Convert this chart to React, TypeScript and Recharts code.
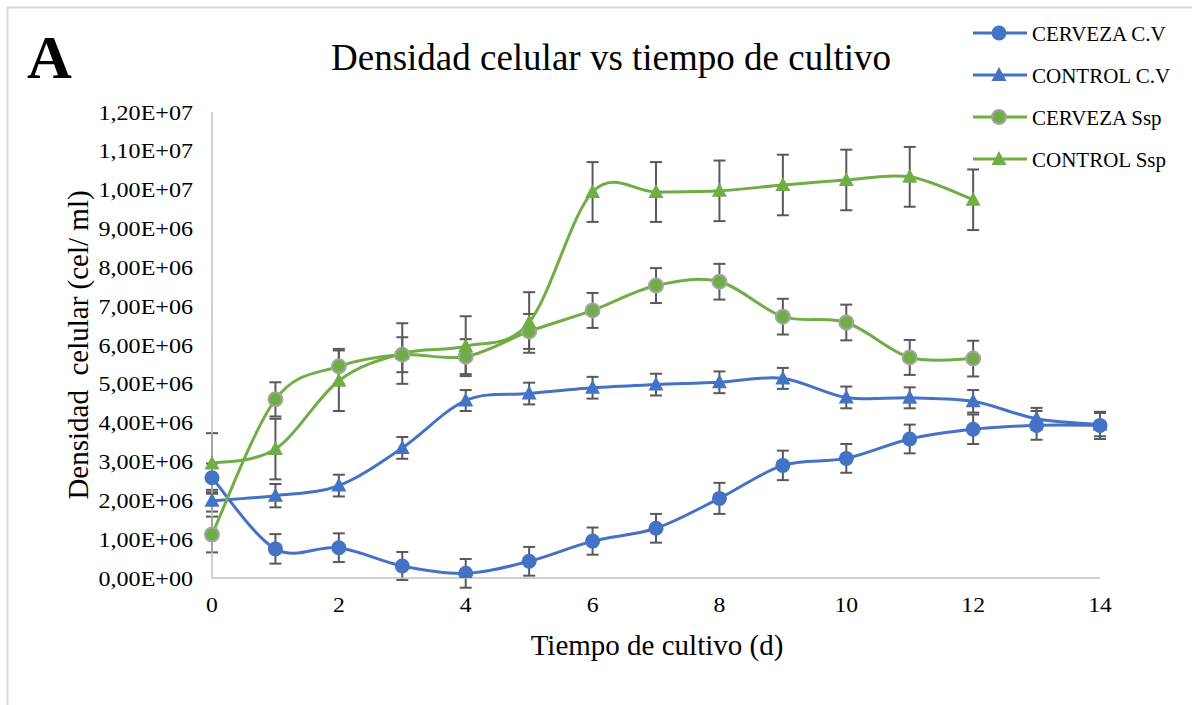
import { ErrorBar, Line, LineChart, XAxis, YAxis } from "recharts";

const days = [0, 1, 2, 3, 4, 5, 6, 7, 8, 9, 10, 11, 12, 13, 14];

const cervezaCV = [2.58e6, 0.75e6, 0.78e6, 0.31e6, 0.12e6, 0.43e6, 0.95e6, 1.28e6, 2.05e6, 2.9e6, 3.08e6, 3.58e6, 3.83e6, 3.93e6, 3.93e6];
const cervezaCVErr = [0.37e6, 0.38e6, 0.37e6, 0.36e6, 0.37e6, 0.37e6, 0.35e6, 0.37e6, 0.4e6, 0.38e6, 0.37e6, 0.37e6, 0.38e6, 0.37e6, 0.35e6];

const controlCV = [1.99e6, 2.12e6, 2.38e6, 3.35e6, 4.57e6, 4.75e6, 4.9e6, 4.98e6, 5.04e6, 5.14e6, 4.65e6, 4.64e6, 4.55e6, 4.1e6, 3.95e6];
const controlCVErr = [0.28e6, 0.3e6, 0.28e6, 0.28e6, 0.27e6, 0.28e6, 0.28e6, 0.28e6, 0.28e6, 0.27e6, 0.28e6, 0.27e6, 0.29e6, 0.28e6, 0.3e6];

const cervezaSsp = [1.12e6, 4.6e6, 5.45e6, 5.75e6, 5.7e6, 6.35e6, 6.89e6, 7.53e6, 7.63e6, 6.73e6, 6.58e6, 5.68e6, 5.65e6];
const cervezaSspErr = [0.46e6, 0.44e6, 0.45e6, 0.45e6, 0.45e6, 0.45e6, 0.45e6, 0.45e6, 0.46e6, 0.46e6, 0.46e6, 0.45e6, 0.46e6];

const controlSsp = [2.95e6, 3.32e6, 5.08e6, 5.78e6, 5.97e6, 6.58e6, 9.94e6, 9.94e6, 9.97e6, 10.12e6, 10.25e6, 10.33e6, 9.74e6];
const controlSspErr = [0.78e6, 0.78e6, 0.78e6, 0.78e6, 0.77e6, 0.78e6, 0.77e6, 0.77e6, 0.78e6, 0.78e6, 0.78e6, 0.77e6, 0.78e6];

const xTicks = [0, 2, 4, 6, 8, 10, 12, 14];
const yTicks = [0, 1e6, 2e6, 3e6, 4e6, 5e6, 6e6, 7e6, 8e6, 9e6, 10e6, 11e6, 12e6];

const data = days.map((day, i) => ({
  day,
  cervezaCV: cervezaCV[i],
  cervezaCVErr: cervezaCVErr[i],
  controlCV: controlCV[i],
  controlCVErr: controlCVErr[i],
  cervezaSsp: cervezaSsp[i],
  cervezaSspErr: cervezaSspErr[i],
  controlSsp: controlSsp[i],
  controlSspErr: controlSspErr[i],
}));

const BLUE = "#4472C4";
const GREEN = "#70AD47";
const RING = "#A5A5A5";
const ERR = "#595959";
const FONT = '"Liberation Serif", "Times New Roman", serif';

// excel-like smoothed line (catmull-rom as bezier)
const excelCurve = (context: any) => {
  let pts: number[][] = [];
  return {
    areaStart() {},
    areaEnd() {},
    lineStart() {
      pts = [];
    },
    point(x: number, y: number) {
      pts.push([+x, +y]);
    },
    lineEnd() {
      const n = pts.length;
      if (!n) return;
      context.moveTo(pts[0][0], pts[0][1]);
      for (let i = 0; i < n - 1; i++) {
        const p0 = pts[i - 1] ?? pts[i];
        const p1 = pts[i];
        const p2 = pts[i + 1];
        const p3 = pts[i + 2] ?? p2;
        context.bezierCurveTo(
          p1[0] + (p2[0] - p0[0]) / 6,
          p1[1] + (p2[1] - p0[1]) / 6,
          p2[0] - (p3[0] - p1[0]) / 6,
          p2[1] - (p3[1] - p1[1]) / 6,
          p2[0],
          p2[1]
        );
      }
    },
  };
};

const sci = (v: number) => {
  if (v === 0) return "0,00E+00";
  const exp = Math.floor(Math.log10(v) + 1e-9);
  const mant = (v / Math.pow(10, exp)).toFixed(2).replace(".", ",");
  return `${mant}E+${String(exp).padStart(2, "0")}`;
};

function CircleDot(props: any) {
  const { cx, cy, mfill, ring } = props;
  if (cx == null || cy == null) return null;
  return <circle cx={cx} cy={cy} r={ring ? 7 : 7.5} fill={mfill} stroke={ring ?? mfill} strokeWidth={ring ? 2 : 0} />;
}

function TriDot(props: any) {
  const { cx, cy, mfill } = props;
  if (cx == null || cy == null) return null;
  return <path d={`M${cx},${cy - 8}L${cx + 7.5},${cy + 6}L${cx - 7.5},${cy + 6}Z`} fill={mfill} />;
}

// tick text in the source is a bit wider than tall, so stretch it slightly
function YTick(props: any) {
  const { x, y, payload } = props;
  return (
    <text
      transform={`translate(${x} ${y}) scale(1.12 1)`}
      dy="0.35em"
      textAnchor="end"
      fontSize={21.5}
      fontFamily={FONT}
      fill="#000"
    >
      {sci(Number(payload.value))}
    </text>
  );
}

function XTick(props: any) {
  const { x, y, payload } = props;
  return (
    <text
      transform={`translate(${x} ${y}) scale(1.1 1)`}
      dy="0.72em"
      textAnchor="middle"
      fontSize={21.5}
      fontFamily={FONT}
      fill="#000"
    >
      {payload.value}
    </text>
  );
}

const legendItems = [
  { name: "CERVEZA C.V", color: BLUE, shape: "circle", ring: undefined },
  { name: "CONTROL C.V", color: BLUE, shape: "tri", ring: undefined },
  { name: "CERVEZA Ssp", color: GREEN, shape: "circle", ring: RING },
  { name: "CONTROL Ssp", color: GREEN, shape: "tri", ring: undefined },
];

export default function App() {
  return (
    <div style={{ position: "relative", width: 1192, height: 705, background: "#fff", fontFamily: FONT }}>
      <style>{"body{margin:0}"}</style>
      <LineChart width={1192} height={705} data={data} margin={{ top: 112, right: 92, bottom: 67, left: 0 }}>
        <XAxis
          dataKey="day"
          type="number"
          domain={[0, 14]}
          ticks={xTicks}
          height={60}
          axisLine={{ stroke: "#BFBFBF", strokeWidth: 1.5 }}
          tickLine={false}
          tickSize={6}
          tickMargin={13}
          tick={<XTick />}
        />
        <YAxis
          type="number"
          domain={[0, 12e6]}
          allowDataOverflow
          ticks={yTicks}
          width={212}
          axisLine={{ stroke: "#BFBFBF", strokeWidth: 1.5 }}
          tickLine={false}
          tickSize={6}
          tickMargin={13}
          tick={<YTick />}
        />
        <Line
          dataKey="cervezaCV"
          type={excelCurve as any}
          stroke={BLUE}
          strokeWidth={3}
          dot={<CircleDot mfill={BLUE} />}
          activeDot={false}
          isAnimationActive={false}
        >
          <ErrorBar dataKey="cervezaCVErr" direction="y" width={6} stroke={ERR} strokeWidth={2} />
        </Line>
        <Line
          dataKey="controlCV"
          type={excelCurve as any}
          stroke={BLUE}
          strokeWidth={3}
          dot={<TriDot mfill={BLUE} />}
          activeDot={false}
          isAnimationActive={false}
        >
          <ErrorBar dataKey="controlCVErr" direction="y" width={6} stroke={ERR} strokeWidth={2} />
        </Line>
        <Line
          dataKey="cervezaSsp"
          type={excelCurve as any}
          stroke={GREEN}
          strokeWidth={3}
          dot={<CircleDot mfill={GREEN} ring={RING} />}
          activeDot={false}
          isAnimationActive={false}
        >
          <ErrorBar dataKey="cervezaSspErr" direction="y" width={6} stroke={ERR} strokeWidth={2} />
        </Line>
        <Line
          dataKey="controlSsp"
          type={excelCurve as any}
          stroke={GREEN}
          strokeWidth={3}
          dot={<TriDot mfill={GREEN} />}
          activeDot={false}
          isAnimationActive={false}
        >
          <ErrorBar dataKey="controlSspErr" direction="y" width={6} stroke={ERR} strokeWidth={2} />
        </Line>
      </LineChart>

      <svg width={1192} height={705} style={{ position: "absolute", left: 0, top: 0, pointerEvents: "none", fontFamily: FONT }}>
        <line x1={7} y1={7.5} x2={1192} y2={7.5} stroke="#D9D9D9" strokeWidth={2} />
        <line x1={7.5} y1={7} x2={7.5} y2={705} stroke="#D9D9D9" strokeWidth={2} />
        <text x={27} y={78} fontSize={62} fontWeight="bold" fill="#000">A</text>
        <text x={611} y={70} fontSize={37} textAnchor="middle" fill="#000">Densidad celular vs tiempo de cultivo</text>
        <text x={657} y={655} fontSize={29} textAnchor="middle" fill="#000">Tiempo de cultivo (d)</text>
        <text
          x={0}
          y={0}
          fontSize={29}
          textAnchor="middle"
          fill="#000"
          transform="translate(88 345) rotate(-90)"
          style={{ whiteSpace: "pre" }}
        >
          {"Densidad  celular (cel/ ml)"}
        </text>
        {legendItems.map((item, i) => {
          const y = 33 + i * 42;
          return (
            <g key={item.name}>
              <line x1={973} y1={y} x2={1027} y2={y} stroke={item.color} strokeWidth={3} />
              {item.shape === "circle" ? (
                <CircleDot cx={999} cy={y} mfill={item.color} ring={item.ring} />
              ) : (
                <TriDot cx={999} cy={y} mfill={item.color} />
              )}
              <text x={1032} y={y + 7.5} fontSize={21} fill="#000">
                {item.name}
              </text>
            </g>
          );
        })}
      </svg>
    </div>
  );
}
